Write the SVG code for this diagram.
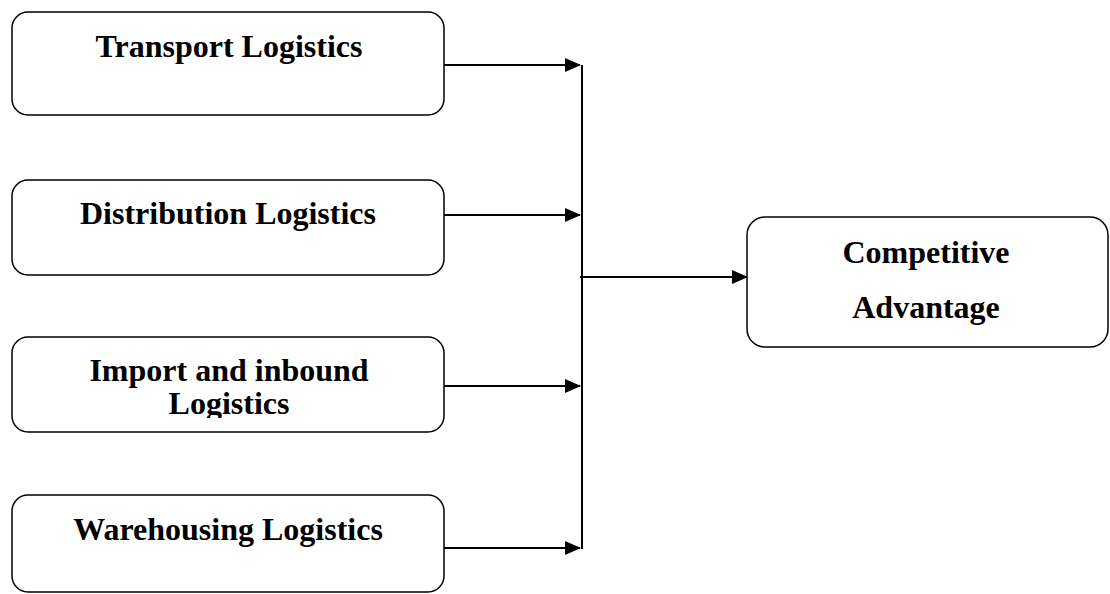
<svg xmlns="http://www.w3.org/2000/svg" width="1110" height="594" viewBox="0 0 1110 594">
<defs>
<style>
.box{fill:#fff;stroke:#000;stroke-width:1.5}
.t{font-family:"Liberation Serif","Times New Roman",serif;font-weight:bold;font-size:32px;fill:#000;text-anchor:middle}
.c{stroke:#000;stroke-width:2;fill:none}
</style>
<marker id="ah" markerWidth="16" markerHeight="14" refX="15" refY="7" orient="auto" markerUnits="userSpaceOnUse">
<path d="M0,0 L16,7 L0,14 Z" fill="#000"/>
</marker>
<clipPath id="clip3"><rect x="12" y="337" width="432" height="81"/></clipPath>
</defs>
<rect width="1110" height="594" fill="#fff"/>
<g id="transport">
<rect class="box" x="12" y="12" width="432" height="103" rx="16"/>
<text class="t" x="229" y="57">Transport Logistics</text>
</g>
<g id="distribution">
<rect class="box" x="12" y="180" width="432" height="95" rx="16"/>
<text class="t" x="228" y="224">Distribution Logistics</text>
</g>
<g id="import">
<rect class="box" x="12" y="337" width="432" height="95" rx="16"/>
<g clip-path="url(#clip3)">
<text class="t" x="229" y="381">Import and inbound</text>
<text class="t" x="229" y="414">Logistics</text>
</g>
</g>
<g id="warehousing">
<rect class="box" x="12" y="495" width="432" height="97" rx="16"/>
<text class="t" x="228" y="540">Warehousing Logistics</text>
</g>
<g id="competitive">
<rect class="box" x="747" y="217" width="361" height="130" rx="18"/>
<text class="t" x="926" y="263">Competitive</text>
<text class="t" x="926" y="318">Advantage</text>
</g>
<g id="connectors">
<line class="c" x1="444" y1="65" x2="580" y2="65" marker-end="url(#ah)"/>
<line class="c" x1="444" y1="215" x2="580" y2="215" marker-end="url(#ah)"/>
<line class="c" x1="444" y1="386" x2="580" y2="386" marker-end="url(#ah)"/>
<line class="c" x1="444" y1="548" x2="580" y2="548" marker-end="url(#ah)"/>
<line class="c" x1="582" y1="65" x2="582" y2="549"/>
<line class="c" x1="580" y1="277" x2="747" y2="277" marker-end="url(#ah)"/>
</g>
</svg>
